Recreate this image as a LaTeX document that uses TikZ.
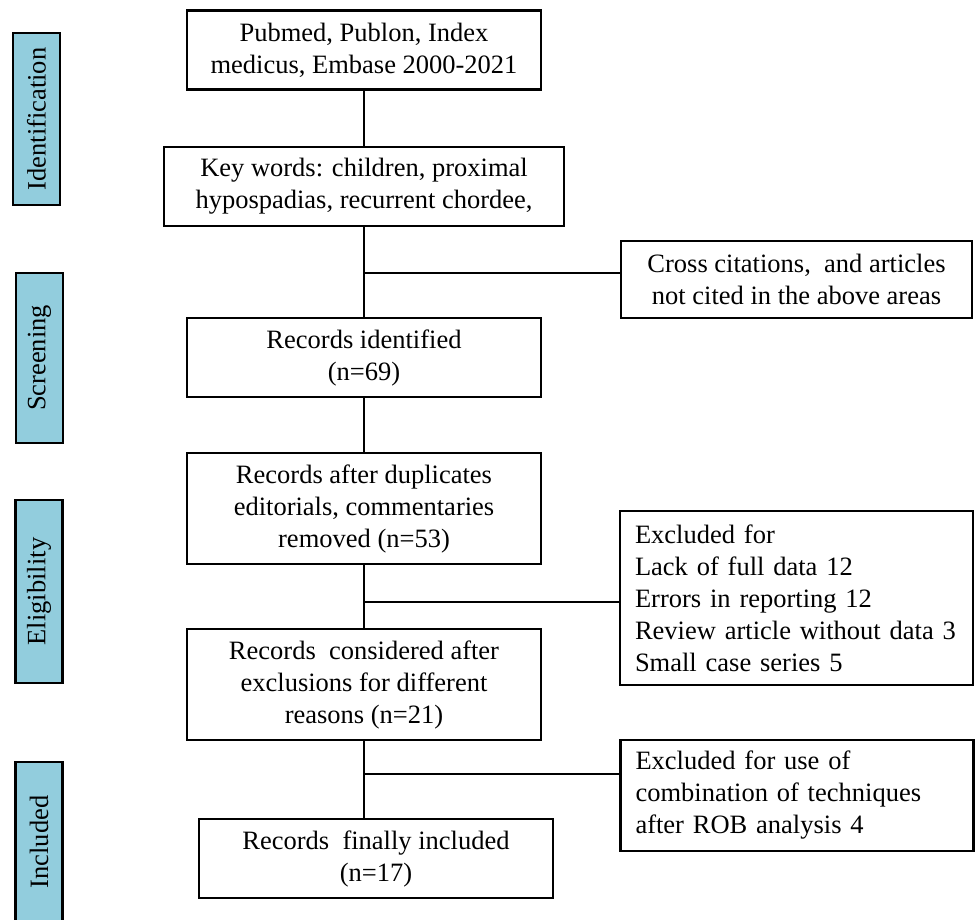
\documentclass[tikz,border=0pt]{standalone}
\usepackage{fontspec}
\setmainfont{Liberation Serif}
\definecolor{phaseblue}{RGB}{146,205,221}
\tikzset{
    every node/.style={font=\fontsize{26.5}{32}\selectfont},
    record/.style={draw=black, line width=2.5pt, align=center, inner sep=0pt,
        minimum width=354pt, minimum height=79pt},
    exclusion/.style={draw=black, line width=2.5pt, align=left, inner xsep=15pt,
        text width=323pt, minimum height=111pt},
    phase/.style={draw=black, fill=phaseblue, line width=2.5pt, rotate=90,
        inner sep=0pt, minimum height=47pt},
    link/.style={draw=black, line width=2.5pt},
}

\begin{document}
\begin{tikzpicture}[x=1pt, y=-1pt]

	\useasboundingbox (0,0) rectangle (976,919);
	\clip (0,0) rectangle (976,919);

	% phases
		\node[phase, minimum width=172pt] (identification) at (36.5,119) {Identification};
		\node[phase, minimum width=170pt] (screening) at (39.5,358) {Screening};
		\node[phase, minimum width=183pt] (eligibility) at (39,591.5) {Eligibility};
		\node[phase, minimum width=160pt] (included) at (39,842) {Included};

	% main column
		\node[record] (search) at (364,50) {Pubmed, Publon, Index\\medicus, Embase 2000-2021};
		\node[record, minimum width=400pt] (keywords) at (364,186.5) {Key words: children, proximal\\hypospadias, recurrent chordee,};
		\node[record] (identified) at (364,357.5) {Records identified\\(n=69)};
		\node[record, minimum height=111pt] (duplicates) at (364,508.5) {Records after duplicates\\editorials, commentaries\\removed (n=53)};
		\node[record, minimum height=111pt] (considered) at (364,684.5) {Records~ considered after\\exclusions for different\\reasons (n=21)};
		\node[record] (final) at (376,858.5) {Records~ finally included\\(n=17)};

	% side boxes
		\node[record, minimum width=351pt, minimum height=77pt] (cross) at (796.5,279.5) {Cross citations,~ and articles\\not cited in the above areas};
		\node[exclusion, minimum height=174pt] (excluded) at (796.5,598) {Excluded for\\Lack of full data 12\\Errors in reporting 12\\Review article without data 3\\Small case series 5};
		\node[exclusion] (technique) at (797,795.5) {Excluded for use of\\combination of techniques\\after ROB analysis 4};

		\coordinate (j1) at (364,273);
		\coordinate (j2) at (364,602);
		\coordinate (j3) at (364,774);

		\draw[link] (search) -- (keywords);
		\draw[link] (keywords) -- (identified);
		\draw[link] (identified) -- (duplicates);
		\draw[link] (duplicates) -- (considered);
		\draw[link] (considered.south) -- (considered.south |- final.north);
		\draw[link] (j1) -- (j1 -| cross.west);
		\draw[link] (j2) -- (j2 -| excluded.west);
		\draw[link] (j3) -- (j3 -| technique.west);
\end{tikzpicture}
\end{document}
